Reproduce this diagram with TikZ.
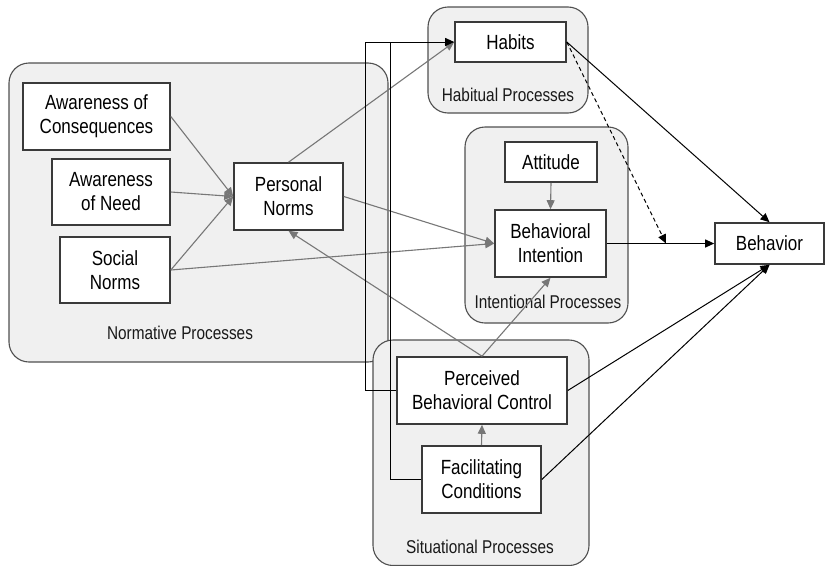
\documentclass[tikz,border=0pt]{standalone}
\usepackage{fontspec}
\setmainfont[FakeStretch=0.83]{Liberation Sans}
\usetikzlibrary{arrows.meta}
\definecolor{grpfill}{HTML}{F0F0F0}
\definecolor{grpline}{HTML}{505050}
\definecolor{boxline}{HTML}{3A3A3A}
\definecolor{conngray}{HTML}{777777}
\tikzset{
  box/.style={draw=boxline, line width=1.6pt, fill=white, inner sep=0pt, align=center,
    font=\fontsize{20.5}{24}\selectfont},
  grp/.style={draw=grpline, line width=1.1pt, fill=grpfill, rounded corners=20pt},
  grplabel/.style={inner sep=0pt, font=\fontsize{18.5}{22}\selectfont, text=black!90},
  gcon/.style={draw=conngray, line width=1.1pt, -{Triangle[length=9pt,width=8pt]}},
  bcon/.style={draw=black, line width=1pt, -{Triangle[length=9pt,width=8pt]}},
  bline/.style={draw=black, line width=1pt},
}
\begin{document}
\begin{tikzpicture}[x=1pt,y=-1pt]
\useasboundingbox (0,0) rectangle (832,565);
% groups
\draw[grp] (9,63) rectangle (388,362);
\draw[grp] (428,7) rectangle (588,113);
\draw[grp] (465,127) rectangle (628,323);
\draw[grp] (373,340) rectangle (589,565.5);
\node[grplabel] (lnorm) at (180,333) {Normative Processes};
\node[grplabel] (lhab) at (508,95) {Habitual Processes};
\node[grplabel] (lint) at (548,302) {Intentional Processes};
\node[grplabel] (lsit) at (480,547) {Situational Processes};
% boxes
\node[box, minimum width=147pt, minimum height=67pt] (aoc) at (96.5,116.5) {Awareness of\\Consequences};
\node[box, minimum width=118pt, minimum height=66pt] (aon) at (111,192) {Awareness\\of Need};
\node[box, minimum width=110pt, minimum height=66pt] (sn) at (115,270) {Social\\Norms};
\node[box, minimum width=109pt, minimum height=67pt] (pn) at (288.5,196.5) {Personal\\Norms};
\node[box, minimum width=111pt, minimum height=40pt] (habits) at (510.5,42) {Habits};
\node[box, minimum width=92pt, minimum height=40pt] (att) at (551,162) {Attitude};
\node[box, minimum width=111pt, minimum height=67pt] (bi) at (550.5,243.5) {Behavioral\\Intention};
\node[box, minimum width=170pt, minimum height=67pt] (pbc) at (482,390.5) {Perceived\\Behavioral Control};
\node[box, minimum width=119pt, minimum height=67pt] (fc) at (481.5,479.5) {Facilitating\\Conditions};
\node[box, minimum width=109pt, minimum height=41pt] (beh) at (769.5,243.5) {Behavior};
% helper coordinates
\coordinate (xa) at (365,0);
\coordinate (xb) at (390,0);
\coordinate (djoin) at (666,243.5);
% gray connectors
\draw[gcon] (aoc.east) -- (pn.west);
\draw[gcon] (aon.east) -- (pn.west);
\draw[gcon] (sn.east) -- (pn.west);
\draw[gcon] (sn.east) -- (bi.west);
\draw[gcon] (pn.east) -- (bi.west);
\draw[gcon] (pn.north) -- (habits.west);
\draw[gcon] (pbc.north) -- (pn.south);
\draw[gcon] (pbc.north) -- (bi.south);
\draw[gcon] (fc.north) -- (pbc.south);
\draw[gcon] (att.south) -- (bi.north);
% black connectors
\draw[bline] (fc.west) -| (xb |- habits.west);
\draw[bcon] (pbc.west) -| (xa |- habits.west) -- (habits.west);
\draw[bcon] (bi.east) -- (beh.west);
\draw[bcon] (habits.east) -- (beh.north);
\draw[bcon, dash pattern=on 4pt off 3pt] (habits.east) -- (djoin);
\draw[bcon] (pbc.east) -- (beh.south);
\draw[bcon] (fc.east) -- (beh.south);
\end{tikzpicture}
\end{document}
